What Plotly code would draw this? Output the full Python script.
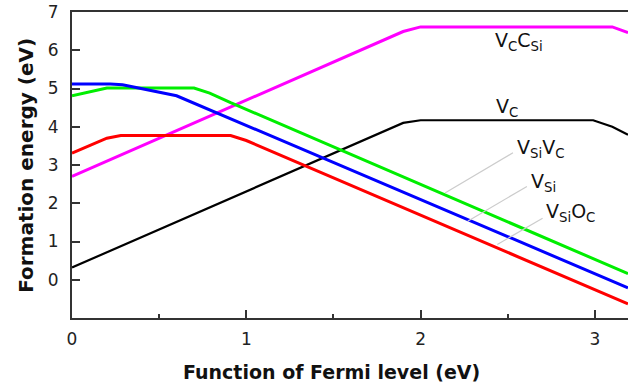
import plotly.graph_objects as go

# ---- data ----
vccsi_x = [0.0, 1.90, 2.00, 3.10, 3.19]
vccsi_y = [2.70, 6.49, 6.61, 6.61, 6.46]

vc_x = [0.0, 1.90, 2.00, 2.99, 3.10, 3.19]
vc_y = [0.32, 4.10, 4.17, 4.17, 4.00, 3.79]

vsivc_x = [0.0, 0.20, 0.70, 0.79, 0.91, 3.19]
vsivc_y = [4.81, 5.01, 5.01, 4.88, 4.63, 0.16]

vsi_x = [0.0, 0.22, 0.29, 0.60, 3.19]
vsi_y = [5.12, 5.12, 5.10, 4.81, -0.21]

vsioc_x = [0.0, 0.20, 0.28, 0.91, 1.00, 3.19]
vsioc_y = [3.31, 3.70, 3.77, 3.77, 3.64, -0.63]

x_ticks = [0, 1, 2, 3]
y_ticks = [0, 1, 2, 3, 4, 5, 6, 7]

labels = ["V<sub>C</sub>C<sub>Si</sub>", "V<sub>C</sub>", "V<sub>Si</sub>V<sub>C</sub>",
          "V<sub>Si</sub>", "V<sub>Si</sub>O<sub>C</sub>"]
label_x = [2.415, 2.42, 2.54, 2.62, 2.71]
label_y = [6.22, 4.51, 3.42, 2.53, 1.77]

# leader lines: (label end) -> (curve end)
leader_x0 = [2.53, 2.61, 2.70]
leader_y0 = [3.32, 2.44, 1.61]
leader_x1 = [2.14, 2.27, 2.44]
leader_y1 = [2.27, 1.53, 0.92]

FONT = "DejaVu Sans"

fig = go.Figure()
series = [
    (vccsi_x, vccsi_y, "#ff00ff", 3),
    (vc_x, vc_y, "#000000", 2.2),
    (vsivc_x, vsivc_y, "#00ee00", 3),
    (vsi_x, vsi_y, "#0000ff", 3),
    (vsioc_x, vsioc_y, "#ff0000", 3),
]
for xs, ys, col, w in series:
    fig.add_trace(go.Scatter(x=xs, y=ys, mode="lines",
                             line=dict(color=col, width=w), showlegend=False,
                             hoverinfo="skip"))

for x0, y0, x1, y1 in zip(leader_x0, leader_y0, leader_x1, leader_y1):
    fig.add_shape(type="line", xref="x", yref="y", x0=x0, y0=y0, x1=x1, y1=y1,
                  line=dict(color="#cccccc", width=1.2))

for t, lx, ly in zip(labels, label_x, label_y):
    fig.add_annotation(x=lx, y=ly, xref="x", yref="y", text=t, showarrow=False,
                       xanchor="left", yanchor="middle",
                       font=dict(family=FONT, size=19, color="#111111"))

# axis titles
fig.add_annotation(x=0.466, y=-0.178, xref="paper", yref="paper",
                   text="<b>Function of Fermi level (eV)</b>", showarrow=False,
                   xanchor="center", yanchor="middle",
                   font=dict(family=FONT, size=19, color="#111111"))
fig.add_annotation(x=-0.083, y=0.5, xref="paper", yref="paper", textangle=-90,
                   text="<b>Formation energy (eV)</b>", showarrow=False,
                   xanchor="center", yanchor="middle",
                   font=dict(family=FONT, size=20, color="#111111"))

fig.update_layout(
    width=628, height=383,
    margin=dict(l=72, r=0, t=12, b=65),
    paper_bgcolor="white", plot_bgcolor="white",
    xaxis=dict(range=[0, 3.19], tickvals=x_ticks, ticks="inside", ticklen=8,
               tickwidth=1.5, tickcolor="#333", showgrid=False, zeroline=False,
               showline=True, linecolor="#333", linewidth=2, mirror=True,
               minor=dict(ticks="inside", ticklen=4, dtick=0.5, tickcolor="#333",
                          tickwidth=1.5, showgrid=False),
               tickfont=dict(family=FONT, size=17, color="#222"), ticklabelstandoff=5),
    yaxis=dict(range=[-1, 7], tickvals=y_ticks, ticks="inside", ticklen=8,
               tickwidth=1.5, tickcolor="#333", showgrid=False, zeroline=False,
               showline=True, linecolor="#333", linewidth=2,
               tickfont=dict(family=FONT, size=17, color="#222"), ticklabelstandoff=8),
)

fig.write_html("out.html")
